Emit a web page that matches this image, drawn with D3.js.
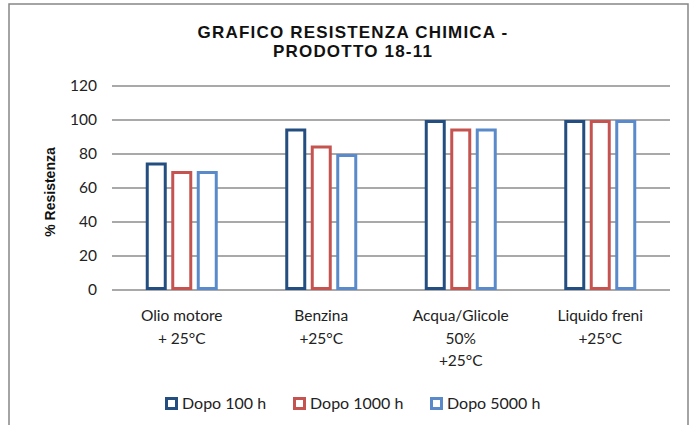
<!DOCTYPE html>
<html><head><meta charset="utf-8">
<script src="https://cdn.jsdelivr.net/npm/d3@7"></script>
<style>body{margin:0;background:#fff}svg{display:block}</style>
</head><body>
<script>
const categories = [["Olio motore","+ 25°C"],["Benzina","+25°C"],["Acqua/Glicole","50%","+25°C"],["Liquido freni","+25°C"]];
const seriesNames = ["Dopo 100 h","Dopo 1000 h","Dopo 5000 h"];
const dopo100 = [75,95,100,100];
const dopo1000 = [70,85,95,100];
const dopo5000 = [70,80,95,100];
const yTicks = [0,20,40,60,80,100,120];
const colors = ["#254E80","#C55451","#5A8ACA"];
const values = [dopo100,dopo1000,dopo5000];

const W=697,H=425;
const svg=d3.select("body").append("svg").attr("width",W).attr("height",H);
svg.append("rect").attr("x",9).attr("y",4).attr("width",679).attr("height",440)
  .attr("fill","#fff").attr("stroke","#868686").attr("stroke-width",1.5);

const x=d3.scaleBand().domain(d3.range(categories.length)).range([112,670]);
const xi=d3.scaleBand().domain(d3.range(seriesNames.length)).range([0,72]).paddingInner(4.5/25.5).paddingOuter(0);
const y=d3.scaleLinear().domain([0,120]).range([290,86]);

const font="Lato, 'Open Sans', sans-serif";
// grid
svg.append("g").selectAll("line").data(yTicks).join("line")
  .attr("x1",112).attr("x2",670).attr("y1",d=>y(d)).attr("y2",d=>y(d))
  .attr("stroke","#8c8c8c").attr("stroke-width",1.5);
// y tick labels
const yAxis=d3.axisLeft(y).tickValues(yTicks).tickSize(0).tickPadding(15);
const ga=svg.append("g").attr("transform","translate(112,0)").call(yAxis);
ga.select(".domain").remove();
ga.selectAll("text").attr("font-family",font).attr("font-size",15.5).attr("fill","#222");

// bars
const sw=3;
values.forEach((vals,s)=>{
  svg.append("g").selectAll("rect").data(vals).join("rect")
    .attr("x",(d,i)=>x(i)+x.bandwidth()/2-36+xi(s)+sw/2)
    .attr("y",d=>y(d)+sw/2)
    .attr("width",xi.bandwidth()-sw)
    .attr("height",d=>y(0)-y(d)-sw)
    .attr("fill","#fff").attr("stroke",colors[s]).attr("stroke-width",sw);
});

// category labels
categories.forEach((lines,i)=>{
  const t=svg.append("text").attr("text-anchor","middle").attr("font-family",font).attr("font-size",15.5).attr("fill","#222");
  lines.forEach((l,j)=>t.append("tspan").attr("x",x(i)+x.bandwidth()/2).attr("y",321+j*22.5).text(l));
});

// title
const title=svg.append("text").attr("text-anchor","middle").attr("font-family","'Liberation Sans', Arial, sans-serif")
  .attr("font-weight","bold").attr("font-size",17).attr("letter-spacing",1.2).attr("fill","#111");
title.append("tspan").attr("x",353).attr("y",38).text("GRAFICO RESISTENZA CHIMICA -");
title.append("tspan").attr("x",353).attr("y",57).text("PRODOTTO 18-11");

// y label
svg.append("text").attr("transform","translate(55,192) rotate(-90)").attr("text-anchor","middle")
  .attr("font-family","'Liberation Sans', Arial, sans-serif").attr("font-weight","bold").attr("font-size",14)
  .attr("fill","#111").text("% Resistenza");

// legend
const legX=[165,293,430];
seriesNames.forEach((n,s)=>{
  svg.append("rect").attr("x",legX[s]+1.5).attr("y",398.5).attr("width",10).attr("height",10)
    .attr("fill","#fff").attr("stroke",colors[s]).attr("stroke-width",3);
  svg.append("text").attr("x",legX[s]+17).attr("y",409).attr("font-family",font).attr("font-size",16)
    .attr("fill","#222").text(n);
});
</script>
</body></html>
